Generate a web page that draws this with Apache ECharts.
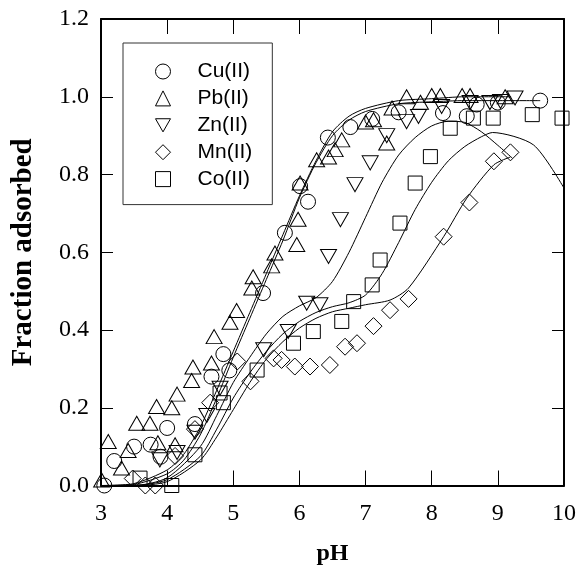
<!DOCTYPE html>
<html><head><meta charset="utf-8">
<script src="https://cdn.jsdelivr.net/npm/echarts@6/dist/echarts.min.js"></script>
<style>html,body{margin:0;padding:0;background:#fff}#c{width:576px;height:576px}</style>
</head><body><div id="c"></div>
<script>
// ---- data ----
const seriesNames = ['Cu(II)', 'Pb(II)', 'Zn(II)', 'Mn(II)', 'Co(II)'];

const cuPH   = [3.05, 3.2, 3.5, 3.75, 3.9, 4.0, 4.42, 4.67, 4.85, 4.94, 5.45, 5.78, 6.01, 6.13, 6.43, 6.77, 7.1, 7.5, 8.17, 8.53, 8.68, 9.0, 9.64];
const cuFrac = [0.0, 0.063, 0.10, 0.105, 0.074, 0.148, 0.158, 0.28, 0.338, 0.296, 0.495, 0.65, 0.77, 0.73, 0.895, 0.922, 0.943, 0.96, 0.958, 0.95, 0.98, 0.985, 0.99];

const pbPH   = [3.01, 3.11, 3.31, 3.41, 3.54, 3.74, 3.84, 3.86, 4.07, 4.12, 4.15, 4.37, 4.39, 4.67, 4.71, 4.95, 5.05, 5.28, 5.3, 5.58, 5.63, 5.96, 5.98, 6.01, 6.26, 6.44, 6.54, 6.64, 7.0, 7.12, 7.32, 7.4, 7.62, 7.83, 8.0, 8.13, 8.46, 8.58, 9.11];
const pbFrac = [0.014, 0.113, 0.045, 0.09, 0.16, 0.16, 0.203, 0.11, 0.20, 0.105, 0.235, 0.27, 0.305, 0.315, 0.383, 0.42, 0.45, 0.508, 0.537, 0.565, 0.598, 0.62, 0.685, 0.778, 0.838, 0.845, 0.864, 0.889, 0.935, 0.941, 0.881, 0.971, 1.0, 0.986, 1.003, 1.003, 1.003, 1.003, 1.0];

const znPH   = [3.89, 4.15, 4.42, 4.6, 4.8, 5.46, 5.83, 6.11, 6.31, 6.44, 6.62, 6.84, 7.07, 7.32, 7.62, 7.8, 8.15, 8.58, 8.88, 9.04, 9.26];
const znFrac = [0.066, 0.085, 0.137, 0.18, 0.25, 0.349, 0.396, 0.469, 0.465, 0.589, 0.684, 0.774, 0.83, 0.90, 0.936, 0.949, 0.975, 0.985, 0.985, 0.988, 0.997];

const mnPH   = [3.48, 3.67, 3.82, 4.12, 4.42, 4.65, 5.06, 5.26, 5.61, 5.73, 5.93, 6.16, 6.46, 6.69, 6.87, 7.12, 7.37, 7.65, 8.18, 8.57, 8.94, 9.19];
const mnFrac = [0.018, 0.0, 0.0, 0.076, 0.145, 0.213, 0.319, 0.268, 0.327, 0.323, 0.306, 0.306, 0.31, 0.357, 0.366, 0.41, 0.451, 0.48, 0.64, 0.728, 0.834, 0.857];

const coPH   = [3.59, 4.07, 4.42, 4.8, 4.85, 5.36, 5.91, 6.21, 6.64, 6.82, 7.1, 7.22, 7.52, 7.75, 7.98, 8.28, 8.63, 8.93, 9.52, 9.97];
const coFrac = [0.019, 0.0, 0.079, 0.238, 0.213, 0.297, 0.366, 0.396, 0.422, 0.473, 0.516, 0.58, 0.675, 0.778, 0.846, 0.919, 0.945, 0.945, 0.954, 0.945];

// model curves
const cuFitPH  = [3.0, 3.5, 4.0, 4.25, 4.5, 4.75, 5.0, 5.25, 5.5, 5.75, 6.0, 6.25, 6.5, 6.75, 7.0, 7.5, 8.0, 8.5, 9.0, 9.64];
const cuFitVal = [0.0, 0.003, 0.03, 0.065, 0.13, 0.225, 0.33, 0.43, 0.53, 0.63, 0.74, 0.83, 0.9, 0.94, 0.962, 0.982, 0.987, 0.99, 0.99, 0.99];

const pbFitPH  = [3.0, 3.5, 4.0, 4.25, 4.5, 4.75, 5.0, 5.25, 5.5, 5.75, 6.0, 6.25, 6.5, 6.75, 7.0, 7.5, 8.0, 8.5, 9.2];
const pbFitVal = [0.0, 0.005, 0.04, 0.08, 0.15, 0.245, 0.345, 0.445, 0.545, 0.645, 0.745, 0.835, 0.91, 0.95, 0.97, 0.99, 0.995, 1.0, 1.0];

const znFitPH  = [3.0, 3.5, 4.0, 4.5, 4.75, 5.0, 5.25, 5.5, 5.75, 6.0, 6.25, 6.5, 6.75, 7.0, 7.25, 7.5, 7.75, 8.0, 8.25, 8.5, 8.75, 9.0, 9.22];
const znFitVal = [0.0, 0.0, 0.02, 0.1, 0.18, 0.265, 0.33, 0.39, 0.435, 0.462, 0.483, 0.525, 0.6, 0.69, 0.78, 0.85, 0.895, 0.925, 0.937, 0.934, 0.91, 0.875, 0.842];

const mnFitPH  = [3.0, 3.5, 4.0, 4.5, 4.75, 5.0, 5.25, 5.5, 5.75, 6.0, 6.25, 6.5, 6.75, 7.0, 7.37, 7.65, 8.18, 8.53, 8.94, 9.19];
const mnFitVal = [0.0, 0.0, 0.01, 0.065, 0.125, 0.195, 0.265, 0.325, 0.37, 0.405, 0.43, 0.447, 0.456, 0.465, 0.477, 0.508, 0.64, 0.739, 0.825, 0.845];

const coFitPH  = [3.0, 3.5, 4.0, 4.5, 4.75, 5.0, 5.25, 5.5, 5.75, 6.0, 6.25, 6.5, 6.75, 7.0, 7.25, 7.5, 7.75, 8.0, 8.25, 8.5, 8.75, 8.92, 9.54, 10.0];
const coFitVal = [0.0, 0.0, 0.015, 0.075, 0.145, 0.225, 0.29, 0.345, 0.39, 0.422, 0.445, 0.46, 0.47, 0.49, 0.545, 0.625, 0.71, 0.78, 0.835, 0.872, 0.897, 0.908, 0.876, 0.765];

// ---- chart ----
const zip = (xs, ys) => xs.map((x, i) => [x, ys[i]]);
const markerStyle = { color: 'rgba(0,0,0,0)', borderColor: '#000', borderWidth: 1, opacity: 1 };
const triDown = 'path://M0,0L16,0L8,14Z';

const scatterDefs = [
  { name: seriesNames[0], symbol: 'circle', size: 15, xs: cuPH, ys: cuFrac },
  { name: seriesNames[1], symbol: 'triangle', size: [16, 14], xs: pbPH, ys: pbFrac },
  { name: seriesNames[2], symbol: triDown, size: [16, 14], xs: znPH, ys: znFrac },
  { name: seriesNames[3], symbol: 'diamond', size: 17, xs: mnPH, ys: mnFrac },
  { name: seriesNames[4], symbol: 'rect', size: 14, xs: coPH, ys: coFrac }
];
const fitDefs = [
  [cuFitPH, cuFitVal], [pbFitPH, pbFitVal], [znFitPH, znFitVal], [mnFitPH, mnFitVal], [coFitPH, coFitVal]
];

const series = [];
fitDefs.forEach((f, i) => {
  series.push({
    name: 'fit' + i, type: 'line', data: zip(f[0], f[1]), showSymbol: false, symbol: 'none',
    smooth: 0.25, lineStyle: { color: '#000', width: 1, opacity: 1 }, z: 2, silent: true
  });
});
scatterDefs.forEach(d => {
  series.push({
    name: d.name, type: 'scatter', symbol: d.symbol, symbolSize: d.size,
    data: zip(d.xs, d.ys), itemStyle: markerStyle, z: 3
  });
});

const serif = '"Liberation Serif", "Times New Roman", serif';
const chart = echarts.init(document.getElementById('c'), null, { renderer: 'canvas' });
chart.setOption({
  animation: false,
  backgroundColor: '#fff',
  grid: { left: 101, right: 12, top: 19, bottom: 90.5, containLabel: false, outerBoundsMode: 'none' },
  legend: {
    data: seriesNames.map(n => ({ name: n, icon: scatterDefs[seriesNames.indexOf(n)].symbol })),
    orient: 'vertical', left: 123, top: 43,
    padding: [18, 20, 15, 32],
    itemWidth: 15, itemHeight: 15, itemGap: 5.9,
    borderColor: '#333', borderWidth: 1, backgroundColor: '#fff',
    itemStyle: { color: 'rgba(0,0,0,0)', borderColor: '#000', borderWidth: 1, opacity: 1 },
    textStyle: { fontFamily: '"Liberation Sans", Arial, sans-serif', fontSize: 21, color: '#000', padding: [0, 0, 0, 22] },
    selectedMode: false
  },
  xAxis: [
    {
      type: 'value', min: 3, max: 10, interval: 1, position: 'bottom',
      name: 'pH', nameLocation: 'middle', nameGap: 56,
      nameTextStyle: { fontFamily: serif, fontWeight: 'bold', fontSize: 24, color: '#000' },
      axisLine: { show: true, onZero: false, lineStyle: { color: '#000', width: 2 } },
      axisTick: { show: true, inside: true, length: 15, lineStyle: { color: '#000', width: 1 } },
      axisLabel: { fontFamily: serif, fontSize: 24, color: '#000', margin: 16 },
      splitLine: { show: false }
    },
    {
      type: 'value', min: 3, max: 10, interval: 1, position: 'top',
      axisLine: { show: true, onZero: false, lineStyle: { color: '#000', width: 2 } },
      axisTick: { show: true, inside: true, length: 15, lineStyle: { color: '#000', width: 1 } },
      axisLabel: { show: false }, splitLine: { show: false }
    }
  ],
  yAxis: [
    {
      type: 'value', min: 0, max: 1.2, interval: 0.2, position: 'left',
      name: 'Fraction adsorbed', nameLocation: 'middle', nameGap: 63, nameRotate: 90,
      nameTextStyle: { fontFamily: serif, fontWeight: 'bold', fontSize: 29, color: '#000' },
      axisLine: { show: true, onZero: false, lineStyle: { color: '#000', width: 2 } },
      axisTick: { show: true, inside: true, length: 12, lineStyle: { color: '#000', width: 1 } },
      axisLabel: { fontFamily: serif, fontSize: 24, color: '#000', margin: 12, formatter: v => v.toFixed(1) },
      splitLine: { show: false }
    },
    {
      type: 'value', min: 0, max: 1.2, interval: 0.2, position: 'right',
      axisLine: { show: true, onZero: false, lineStyle: { color: '#000', width: 2 } },
      axisTick: { show: true, inside: true, length: 12, lineStyle: { color: '#000', width: 1 } },
      axisLabel: { show: false }, splitLine: { show: false }
    }
  ],
  series: series
});
</script>
</body></html>
